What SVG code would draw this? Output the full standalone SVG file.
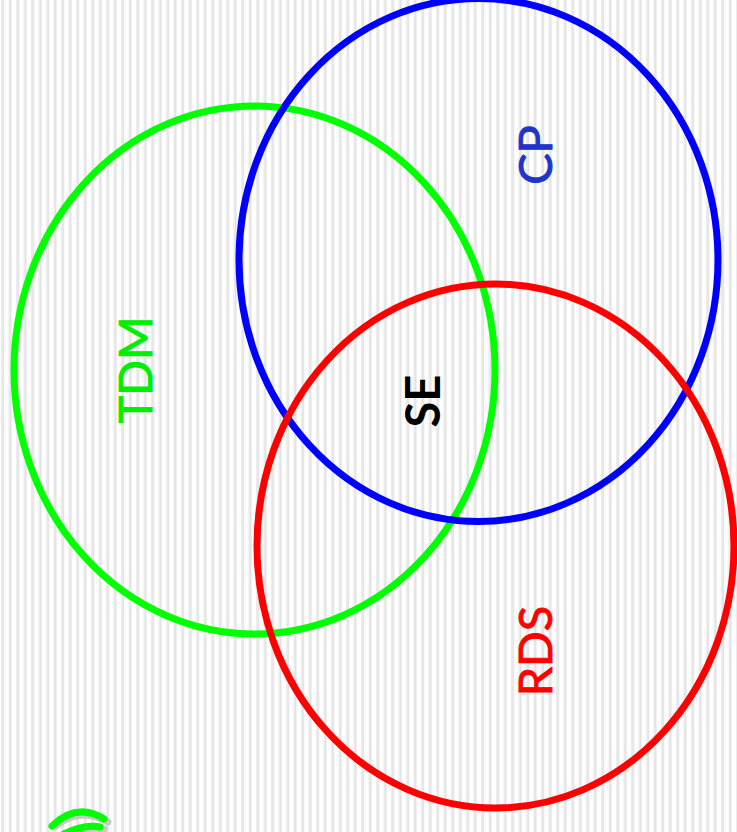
<svg xmlns="http://www.w3.org/2000/svg" width="737" height="832" viewBox="0 0 737 832">
<defs>
<pattern id="stripes" x="0" y="0" width="7.5" height="10" patternUnits="userSpaceOnUse">
<rect x="0" y="0" width="7.5" height="10" fill="#ffffff"/>
<rect x="1" y="0" width="2" height="10" fill="#ebebeb"/>
<rect x="3" y="0" width="1" height="10" fill="#dadada"/>
</pattern>
<style>
.ring{fill:none;stroke-width:7}
.lbl{font-family:Lato,"Open Sans","DejaVu Sans",sans-serif;font-size:47px;text-anchor:middle;stroke-width:0.9}
</style>
</defs>
<rect width="737" height="832" fill="url(#stripes)"/>
<g id="deco">
<path d="M56 826 Q80 806 108 822" fill="none" stroke="#c8c8c8" stroke-width="7" stroke-linecap="round"/>
<path d="M52 826 Q77 802 104 819" fill="none" stroke="#00ff00" stroke-width="7" stroke-linecap="round"/>
<path d="M68 834 Q86 826 104 829" fill="none" stroke="#c8c8c8" stroke-width="7" stroke-linecap="round"/>
<path d="M64 834 Q84 824 100 827" fill="none" stroke="#00ff00" stroke-width="7" stroke-linecap="round"/>
</g>
<g id="TDM">
<ellipse class="ring" cx="254.5" cy="370" rx="240.5" ry="264" stroke="#00ff00"/>
<text class="lbl" transform="translate(152,370) rotate(-90)" fill="#00ee00" stroke="#00ee00">TDM</text>
</g>
<g id="CP">
<ellipse class="ring" cx="478.5" cy="260" rx="239.5" ry="261.5" stroke="#0000ff"/>
<text class="lbl" transform="translate(552,155) rotate(-90)" fill="#2233cc" stroke="#2233cc">CP</text>
</g>
<g id="RDS">
<ellipse class="ring" cx="495.5" cy="546" rx="238.5" ry="262" stroke="#ff0000"/>
<text class="lbl" transform="translate(552,651) rotate(-90)" fill="#ff0000" stroke="#ff0000">RDS</text>
</g>
<g id="SE">
<text class="lbl" transform="translate(440,401) rotate(-90)" fill="#000000" font-weight="bold">SE</text>
</g>
<g id="connectors"/>
</svg>
